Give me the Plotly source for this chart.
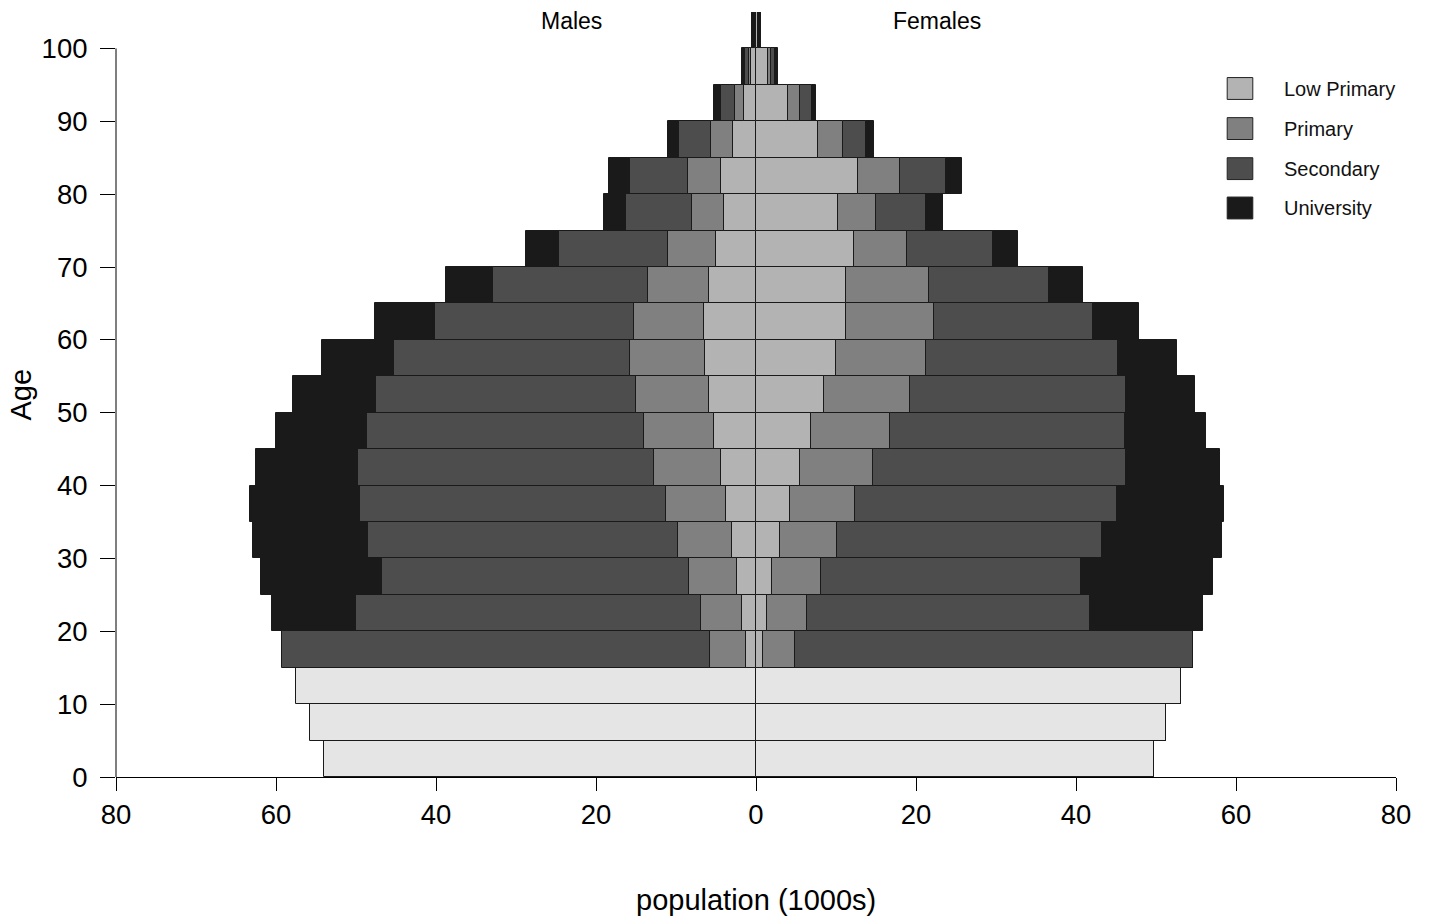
import plotly.graph_objects as go

# ---------------- data (population in 1000s) ----------------
age_start = [0, 5, 10, 15, 20, 25, 30, 35, 40, 45, 50, 55, 60, 65, 70, 75, 80, 85, 90, 95, 100]

# children (no education category yet)
child_m = [54.0, 55.75, 57.5, 0, 0, 0, 0, 0, 0, 0, 0, 0, 0, 0, 0, 0, 0, 0, 0, 0, 0]
child_f = [49.8, 51.3, 53.1, 0, 0, 0, 0, 0, 0, 0, 0, 0, 0, 0, 0, 0, 0, 0, 0, 0, 0]

lowprim_m = [0, 0, 0, 1.3, 1.7, 2.4, 3.0, 3.7, 4.4, 5.2, 5.9, 6.4, 6.5, 5.9, 5.0, 4.0, 4.4, 2.9, 1.45, 0.6, 0.12]
prim_m    = [0, 0, 0, 4.5, 5.2, 6.0, 6.8, 7.55, 8.4, 8.8, 9.1, 9.35, 8.8, 7.6, 6.0, 4.0, 4.1, 2.7, 1.15, 0.33, 0.1]
sec_m     = [0, 0, 0, 53.5, 43.1, 38.3, 38.7, 38.25, 37.0, 34.6, 32.5, 29.45, 24.8, 19.35, 13.6, 8.3, 7.3, 4.0, 1.8, 0.42, 0.13]
univ_m    = [0, 0, 0, 0, 10.5, 15.2, 14.4, 13.7, 12.7, 11.4, 10.35, 9.1, 7.5, 5.85, 4.2, 2.7, 2.6, 1.35, 0.8, 0.41, 0.12]

lowprim_f = [0, 0, 0, 0.85, 1.35, 2.05, 3.0, 4.2, 5.5, 6.9, 8.5, 10.0, 11.2, 11.3, 12.2, 10.2, 12.8, 7.7, 4.0, 1.5, 0.25]
prim_f    = [0, 0, 0, 4.05, 5.05, 6.05, 7.1, 8.2, 9.1, 9.9, 10.7, 11.3, 11.1, 10.3, 6.7, 4.8, 5.2, 3.2, 1.5, 0.4, 0.13]
sec_f     = [0, 0, 0, 49.7, 35.4, 32.5, 33.1, 32.7, 31.6, 29.3, 27.0, 23.9, 19.8, 15.0, 10.7, 6.3, 5.8, 2.9, 1.45, 0.5, 0.15]
univ_f    = [0, 0, 0, 0, 14.1, 16.55, 15.0, 13.4, 11.8, 10.15, 8.7, 7.4, 5.8, 4.3, 3.2, 2.1, 2.0, 1.0, 0.55, 0.35, 0.12]

edu_names = ["Low Primary", "Primary", "Secondary", "University"]
edu_colors = ["#b3b3b3", "#808080", "#4d4d4d", "#1a1a1a"]
child_color = "#e5e5e5"

x_ticks = [-80, -60, -40, -20, 0, 20, 40, 60, 80]
x_ticklabels = ["80", "60", "40", "20", "0", "20", "40", "60", "80"]
y_ticks = [0, 10, 20, 30, 40, 50, 60, 70, 80, 90, 100]

# ---------------- figure ----------------
FONT = "Liberation Sans, Arial, Helvetica, sans-serif"
ymid = [a + 2.5 for a in age_start]
line = dict(color="#1a1a1a", width=1)

fig = go.Figure()
fig.add_trace(go.Bar(y=ymid, x=[-v for v in child_m], orientation="h",
                     marker=dict(color=child_color, line=line), showlegend=False, width=5))
fig.add_trace(go.Bar(y=ymid, x=child_f, orientation="h",
                     marker=dict(color=child_color, line=line), showlegend=False, width=5))

males = [lowprim_m, prim_m, sec_m, univ_m]
females = [lowprim_f, prim_f, sec_f, univ_f]
for name, col, mv, fv in zip(edu_names, edu_colors, males, females):
    fig.add_trace(go.Bar(y=ymid, x=[-v for v in mv], orientation="h", name=name,
                         marker=dict(color=col, line=line), showlegend=False, width=5))
    fig.add_trace(go.Bar(y=ymid, x=fv, orientation="h", name=name,
                         marker=dict(color=col, line=line), showlegend=False, width=5))

shapes = []
annotations = []
# y axis line only over tick range 0..100
shapes.append(dict(type="line", xref="paper", yref="y", x0=0, x1=0, y0=0, y1=100,
                   line=dict(color="#000", width=1)))

# manual legend (data coordinates)
leg_y = [94.5, 89.0, 83.5, 78.1]
for name, col, yy in zip(edu_names, edu_colors, leg_y):
    shapes.append(dict(type="rect", xref="x", yref="y", x0=58.9, x1=62.1, y0=yy - 1.5, y1=yy + 1.5,
                       fillcolor=col, line=dict(color="#222", width=1)))
    annotations.append(dict(x=65.75, y=yy, xref="x", yref="y", text=name, showarrow=False,
                            xanchor="left", yanchor="middle", font=dict(family=FONT, size=20, color="#111")))

annotations.append(dict(x=-23.1, y=103.8, xref="x", yref="y", text="Males", showarrow=False,
                        xanchor="center", yanchor="middle", font=dict(family=FONT, size=23, color="#000")))
annotations.append(dict(x=22.6, y=103.8, xref="x", yref="y", text="Females", showarrow=False,
                        xanchor="center", yanchor="middle", font=dict(family=FONT, size=23, color="#000")))
annotations.append(dict(x=0.5, y=(777 - 900) / 765.5, xref="paper", yref="paper", text="population (1000s)",
                        showarrow=False, xanchor="center", yanchor="middle",
                        font=dict(family=FONT, size=29, color="#000")))
annotations.append(dict(x=-0.074, y=(777 - 394) / 765.5, xref="paper", yref="paper", text="Age",
                        showarrow=False, textangle=-90, xanchor="center", yanchor="middle",
                        font=dict(family=FONT, size=29, color="#000")))

fig.update_layout(
    width=1429, height=918,
    margin=dict(l=116, r=33, t=11.5, b=141),
    barmode="relative", bargap=0,
    plot_bgcolor="white", paper_bgcolor="white",
    shapes=shapes, annotations=annotations,
    font=dict(family=FONT, color="#000"),
)
fig.update_xaxes(range=[-80, 80], tickvals=x_ticks, ticktext=x_ticklabels,
                 showgrid=False, zeroline=False, showline=True, linecolor="#000", linewidth=1,
                 ticks="outside", ticklen=13, tickcolor="#000", tickwidth=1,
                 tickfont=dict(family=FONT, size=27.5, color="#000"), ticklabelstandoff=0)
fig.update_yaxes(range=[0, 105], tickvals=y_ticks,
                 showgrid=False, zeroline=False, showline=False,
                 ticks="outside", ticklen=15, tickcolor="#000", tickwidth=1,
                 tickfont=dict(family=FONT, size=27.5, color="#000"), ticklabelstandoff=7)

fig.write_html("out.html")
